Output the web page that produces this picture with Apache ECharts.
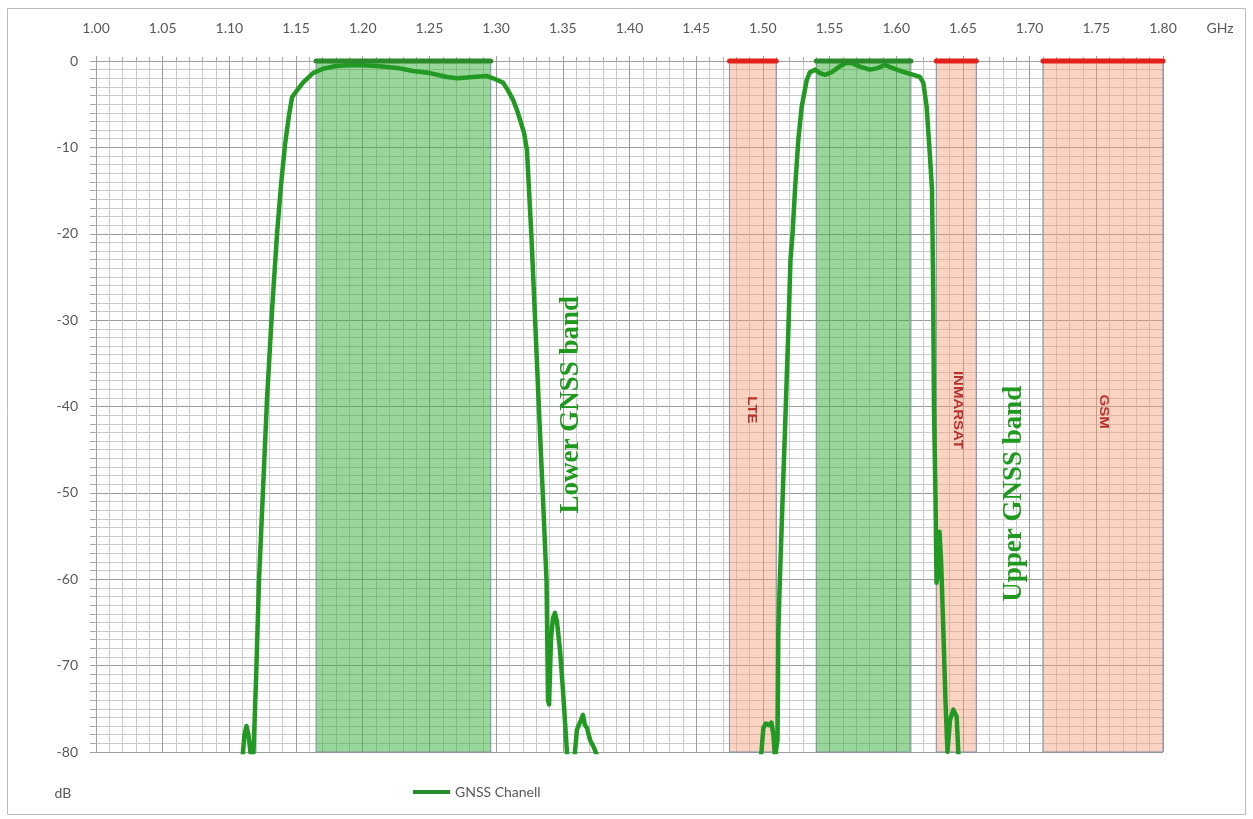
<!DOCTYPE html>
<html><head><meta charset="utf-8">
<script src="https://cdn.jsdelivr.net/npm/echarts@6/dist/echarts.min.js"></script>
<style>html,body{margin:0;padding:0;background:#fff}#c{width:1253px;height:819px}</style>
</head><body><div id="c"></div>
<script>
// ---- data ----
const freq = [1.1080,1.1102,1.1113,1.1128,1.1143,1.1158,1.1170,1.1181,1.1200,1.1222,1.1252,1.1282,1.1320,1.1357,1.1387,1.1417,1.1447,1.1470,1.1507,1.1552,1.1627,1.1702,1.1792,1.1882,1.2002,1.2129,1.2257,1.2377,1.2504,1.2632,1.2707,1.2827,1.2932,1.2977,1.3052,1.3089,1.3127,1.3157,1.3179,1.3209,1.3231,1.3264,1.3293,1.3321,1.3350,1.3378,1.3389,1.3397,1.3411,1.3426,1.3441,1.3456,1.3479,1.3501,1.3531,1.3546,1.3576,1.3591,1.3606,1.3636,1.3651,1.3666,1.3681,1.3704,1.3734,1.3756,1.3779,
  1.44,
  1.4963,1.4989,1.5004,1.5023,1.5046,1.5064,1.5079,1.5091,1.5102,1.5110,1.5116,1.5127,1.5149,1.5171,1.5193,1.5207,1.5222,1.5241,1.5266,1.5291,1.5329,1.5353,1.5391,1.5428,1.5466,1.5516,1.5578,1.5628,1.5678,1.5728,1.5803,1.5853,1.5916,1.5978,1.6053,1.6128,1.6178,1.6203,1.6228,1.6253,1.6268,1.6276,1.6283,1.6294,1.6302,1.6309,1.6324,1.6336,1.6353,1.6369,1.6384,1.6403,1.6428,1.6441,1.6453,1.6465,1.6478];
const gain = [-85,-80,-78,-77,-78,-80,-80.9,-80,-71.6,-60.2,-49.7,-39.2,-28.8,-20.1,-14.4,-9.7,-6.3,-4.2,-3.4,-2.5,-1.4,-0.9,-0.6,-0.5,-0.5,-0.6,-0.8,-1.15,-1.4,-1.85,-2.0,-1.85,-1.75,-2.0,-2.5,-3.4,-4.5,-5.7,-6.8,-8.3,-10.3,-20.1,-30.2,-40.3,-50.2,-60.2,-74.0,-74.5,-67.0,-64.5,-63.9,-64.9,-68.2,-72.8,-80.0,-83.2,-83.2,-80.0,-77.4,-76.3,-75.7,-76.9,-77.2,-78.6,-79.5,-80.4,-84.4,
  null,
  -84.4,-80,-77.2,-76.7,-76.9,-76.6,-78.0,-80.7,-80.9,-78.6,-65.9,-60.2,-50.2,-40.3,-30.2,-23.0,-20.1,-14.9,-9.1,-5.3,-2.2,-1.3,-1.0,-1.4,-1.6,-1.3,-0.6,-0.2,-0.3,-0.65,-1.0,-0.85,-0.46,-0.85,-1.25,-1.6,-1.85,-2.55,-5.3,-11.1,-14.9,-25.3,-40.3,-50.2,-60.4,-59.5,-54.5,-57.8,-65.9,-74.0,-80.0,-76.3,-75.1,-74.9,-75.9,-80.0,-84.4];

const bandStart = [1.165, 1.475, 1.540, 1.630, 1.710];
const bandEnd   = [1.296, 1.510, 1.611, 1.660, 1.800];
const bandKind  = ['gnss', 'interf', 'gnss', 'interf', 'interf'];

const interfLabels = ['LTE', 'INMARSAT', 'GSM'];
const interfLabelFreq = [1.4911, 1.6455, 1.755];
const interfLabelDb = [-40.4, -40.4, -40.6];

const groupLabels = ['Lower GNSS band', 'Upper GNSS band'];
const groupLabelFreq = [1.3561, 1.6883];
const groupLabelDb = [-39.8, -50.1];

const xMin = 1.0, xMax = 1.8, xStep = 0.05;
const yMin = -80, yMax = 0, yStep = 10;

// ---- chart ----
const chart = echarts.init(document.getElementById('c'), null, {renderer: 'canvas'});
const FONT = 'Lato, "Open Sans", sans-serif';
const TXT = '#595959';

const curveData = freq.map((f, i) => gain[i] === null ? [f, '-'] : [f, gain[i]]);

const bandFill = {gnss: 'rgba(51,173,51,0.5)', interf: 'rgba(246,157,122,0.45)'};
const barColor = {gnss: '#2b8a2b', interf: '#e3201c'};

const series = [{
  name: 'GNSS Chanell',
  type: 'line',
  data: curveData,
  showSymbol: false,
  symbol: 'none',
  connectNulls: false,
  smooth: false,
  z: 2,
  color: '#229922',
  lineStyle: {width: 4.5, color: '#229922', cap: 'round', join: 'round'},
  silent: true
}, {
  name: 'bands',
  type: 'line',
  data: [],
  z: 3,
  silent: true,
  markArea: {
    silent: true,
    data: bandStart.map((s, i) => [{
      xAxis: s,
      itemStyle: {color: bandFill[bandKind[i]], borderColor: '#8090a8', borderWidth: 1}
    }, {xAxis: bandEnd[i]}])
  }
}];
bandStart.forEach((s, i) => {
  series.push({
    name: 'bar' + i,
    type: 'line',
    data: [[s, 0], [bandEnd[i], 0]],
    symbol: 'none',
    clip: false,
    z: 4,
    silent: true,
    lineStyle: {width: 5, color: barColor[bandKind[i]], cap: 'round'}
  });
});

chart.setOption({
  animation: false,
  backgroundColor: '#fff',
  grid: {left: 96, right: 90, top: 61, bottom: 67, containLabel: false},
  legend: {
    data: [{name: 'GNSS Chanell', icon: 'rect'}],
    left: 413, top: 785, padding: 0,
    itemWidth: 37, itemHeight: 4,
    itemStyle: {color: '#2b8a2b'},
    textStyle: {color: TXT, fontSize: 14, fontFamily: FONT}
  },
  xAxis: {
    type: 'value', position: 'top',
    min: xMin, max: xMax, interval: xStep,
    axisLine: {show: true, lineStyle: {color: '#a0a0a0'}},
    axisTick: {show: true, length: 5, lineStyle: {color: '#a0a0a0'}},
    minorTick: {show: true, splitNumber: 5, length: 4, lineStyle: {color: '#aaaaaa'}},
    axisLabel: {margin: 26, color: TXT, fontSize: 14, fontFamily: FONT,
      formatter: v => v.toFixed(2)},
    splitLine: {show: true, lineStyle: {color: '#9c9c9c', width: 1}},
    minorSplitLine: {show: true, lineStyle: {color: '#cbcbcb', width: 1}}
  },
  yAxis: {
    type: 'value', min: yMin, max: yMax, interval: yStep,
    axisLine: {show: true, lineStyle: {color: '#a0a0a0'}},
    axisTick: {show: true, length: 6, lineStyle: {color: '#a0a0a0'}},
    minorTick: {show: true, splitNumber: 10, length: 6, lineStyle: {color: '#aaaaaa'}},
    axisLabel: {margin: 18, color: TXT, fontSize: 14, fontFamily: FONT},
    splitLine: {show: true, lineStyle: {color: '#9c9c9c', width: 1}},
    minorSplitLine: {show: true, lineStyle: {color: '#cbcbcb', width: 1}}
  },
  series: series
});

const graphics = [{
  type: 'rect', silent: true, z: 0,
  shape: {x: 7.5, y: 8.5, width: 1238, height: 806},
  style: {fill: 'none', stroke: '#bcbcbc', lineWidth: 1}
}, {
  type: 'text', silent: true, x: 63, y: 793,
  style: {text: 'dB', fill: TXT, font: '14px ' + FONT, align: 'center', verticalAlign: 'middle'}
}, {
  type: 'text', silent: true, x: 1220, y: 28,
  style: {text: 'GHz', fill: TXT, font: '14px ' + FONT, align: 'center', verticalAlign: 'middle'}
}];
interfLabels.forEach((t, i) => {
  const p = chart.convertToPixel({gridIndex: 0}, [interfLabelFreq[i], interfLabelDb[i]]);
  graphics.push({
    type: 'text', silent: true, x: p[0], y: p[1], rotation: -Math.PI / 2, z: 10,
    scaleX: 1.25, scaleY: 1,
    style: {text: t, fill: '#b8312f', font: 'bold 12px "Liberation Sans", sans-serif',
      align: 'center', verticalAlign: 'middle'}
  });
});
groupLabels.forEach((t, i) => {
  const p = chart.convertToPixel({gridIndex: 0}, [groupLabelFreq[i], groupLabelDb[i]]);
  graphics.push({
    type: 'text', silent: true, x: p[0], y: p[1], rotation: Math.PI / 2, z: 10,
    style: {text: t, fill: '#1f9a1f', font: 'bold 27px "Liberation Serif", "DejaVu Serif", serif',
      align: 'center', verticalAlign: 'middle'}
  });
});
chart.setOption({graphic: graphics});
</script>
</body></html>
